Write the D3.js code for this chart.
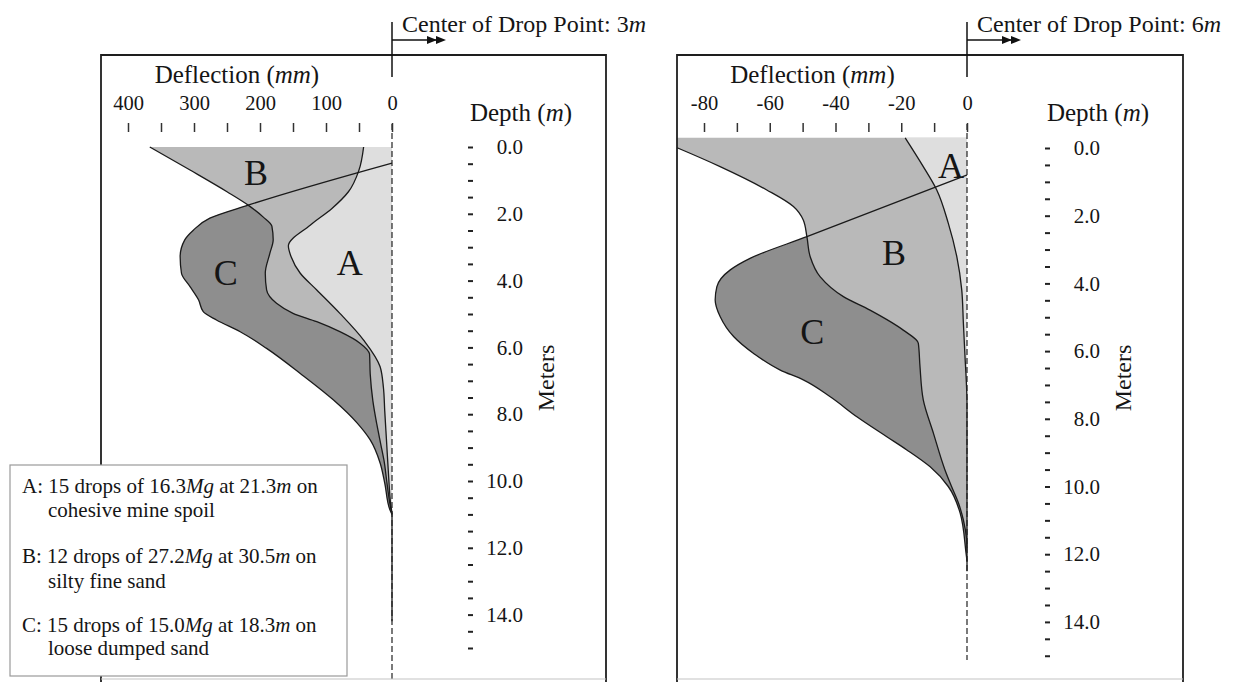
<!DOCTYPE html>
<html><head><meta charset="utf-8">
<script src="https://cdn.jsdelivr.net/npm/d3@7"></script>
<style>
html,body{margin:0;padding:0;background:#fff;}
svg{display:block;}
text{font-family:"Liberation Serif","Times New Roman",serif;fill:#151515;}
</style>
</head><body>
<svg id="c" width="1248" height="682"></svg>
<script>
// ---------------- DATA ----------------
// Deflection axis ticks (mm)
const leftTicks   = [0,50,100,150,200,250,300,350,400];
const leftLabels  = [0,100,200,300,400];
const rightTicks  = [-80,-70,-60,-50,-40,-30,-20,-10,0];
const rightLabels = [-80,-60,-40,-20,0];
// Depth axis ticks (m)
const depthTicks  = [0,0.5,1,1.5,2,2.5,3,3.5,4,4.5,5,5.5,6,6.5,7,7.5,8,8.5,9,9.5,10,10.5,11,11.5,12,12.5,13,13.5,14,14.5,15];
const depthLabels = [0,2,4,6,8,10,12,14];

// Left panel (drop point 3 m): [deflection mm, depth m]
const leftA = [[43,0],[50,0.69],[66,1.34],[91,1.84],[124,2.34],[157,2.96],[153,3.28],[139,3.78],[114,4.28],[79,4.98],[43,5.78],[18,6.58],[13,7.2],[11,7.9],[8,8.9],[5,9.9],[2,10.7],[0,11.0],[0,14.2]];
const leftB = [[367,0],[306,0.69],[250,1.34],[218,1.74],[195,2.10],[182,2.37],[180,2.78],[185,3.18],[192,3.78],[190,4.28],[175,4.68],[150,4.98],[114,5.23],[79,5.53],[48,5.88],[34,6.2],[33,6.8],[29,7.6],[23,8.3],[17,8.9],[12,9.4],[8,10.0],[3,10.7],[0,11.0]];
const leftC = [[0,0.48],[218,1.74],[276,2.13],[301,2.49],[314,2.78],[321,3.28],[319,3.78],[306,4.18],[293,4.58],[286,4.93],[266,5.18],[230,5.53],[190,6.03],[139,6.78],[89,7.57],[53,8.26],[33,8.77],[18,9.46],[11,10.06],[3,10.87],[0,11.0]];

// Right panel (drop point 6 m)
const rightA = [[-18.8,-0.3],[-13.3,0.55],[-9.2,1.24],[-5.7,2.22],[-3.1,3.21],[-1.6,4.19],[-1.1,5.18],[-0.6,6.17],[-0.1,7.15],[0,7.5],[0,12.5]];
const rightB = [[-95.4,-0.3],[-88,0],[-75.1,0.55],[-60.9,1.24],[-52.8,1.73],[-49.8,2.13],[-48.7,2.62],[-47.7,3.21],[-44.7,3.80],[-37.6,4.39],[-29.5,4.79],[-19.4,5.38],[-14.8,5.77],[-14.3,6.46],[-13.3,7.44],[-10.2,8.43],[-6.7,9.51],[-4.7,10.0],[-2.6,10.49],[-1.1,10.99],[-0.1,11.58],[0,11.8]];
const rightC = [[0,0.8],[-48.7,2.62],[-66,3.26],[-72,3.60],[-76.1,4.10],[-76.6,4.49],[-75.1,4.98],[-71.0,5.57],[-64.9,6.07],[-56.8,6.56],[-49.8,6.85],[-41.6,7.35],[-33.5,7.94],[-24.4,8.53],[-18.3,8.92],[-11.2,9.42],[-5.7,10.0],[-2.1,10.78],[-0.3,11.96],[0,12.2]];

// Region letters: [letter, deflection, depth]
const leftLetters  = [["A",64,3.47],["B",206,0.75],["C",252,3.77]];
const rightLetters = [["A",-4.9,0.53],["B",-22.2,3.10],["C",-47.1,5.41]];

const dropPoints = ["3","6"];

const legendItems = [
  {key:"A", drops:"15", mass:"16.3", height:"21.3", soil:"cohesive mine spoil"},
  {key:"B", drops:"12", mass:"27.2", height:"30.5", soil:"silty fine sand"},
  {key:"C", drops:"15", mass:"15.0", height:"18.3", soil:"loose dumped sand"}
];

// ---------------- LAYOUT ----------------
const svg = d3.select("#c");
const fills = {A:"#dedede", B:"#b9b9b9", C:"#8e8e8e"};

const panels = [
  {id:"L", frame:[101,55,606,682], xDomain:[0,400], xRange:[392,128], yRange:[147,147+15*33.4],
   ticks:leftTicks, labels:leftLabels, A:leftA, B:leftB, C:leftC, letters:leftLetters,
   depthX:468, dashEnd:680, drop:dropPoints[0], defl:235},
  {id:"R", frame:[677,55,1183,682], xDomain:[-80,0], xRange:[704,967], yRange:[148,148+15*33.85],
   ticks:rightTicks, labels:rightLabels, A:rightA, B:rightB, C:rightC, letters:rightLetters,
   depthX:1045, dashEnd:660, drop:dropPoints[1], defl:-47}
];

panels.forEach(p => {
  const x = d3.scaleLinear().domain(p.xDomain).range(p.xRange);
  const y = d3.scaleLinear().domain([0,15]).range(p.yRange);
  const [fx0,fy0,fx1,fy1] = p.frame;

  svg.append("clipPath").attr("id","clip"+p.id)
    .append("rect").attr("x",fx0).attr("y",fy0).attr("width",fx1-fx0).attr("height",fy1-fy0);

  const g = svg.append("g").attr("clip-path",`url(#clip${p.id})`);
  const area = d3.area().curve(d3.curveMonotoneY)
    .y(d => y(d[1])).x0(x(0)).x1(d => x(d[0]));
  const line = d3.line().curve(d3.curveMonotoneY)
    .x(d => x(d[0])).y(d => y(d[1]));

  ["C","B","A"].forEach(k => {
    g.append("path").attr("d", area(p[k])).attr("fill", fills[k]).attr("stroke","none");
  });
  // zero dashed line
  svg.append("line").attr("x1",x(0)).attr("x2",x(0)).attr("y1",124).attr("y2",p.dashEnd)
    .attr("stroke","#222").attr("stroke-width",1.2).attr("stroke-dasharray","6,3");
  ["C","B","A"].forEach(k => {
    g.append("path").attr("d", line(p[k])).attr("fill","none")
      .attr("stroke","#1a1a1a").attr("stroke-width",1.3);
  });

  // region letters
  p.letters.forEach(([t,v,d]) => {
    svg.append("text").attr("x",x(v)).attr("y",y(d)+12.5).attr("text-anchor","middle")
      .style("font-size","36px").text(t);
  });

  // deflection axis
  const ax = svg.append("g").attr("transform","translate(0,132)")
    .call(d3.axisTop(x).tickValues(p.ticks).tickSize(9).tickPadding(13)
      .tickFormat(d => p.labels.includes(d) ? String(d) : ""));
  ax.select(".domain").remove();
  ax.selectAll(".tick line").attr("stroke","#333").attr("stroke-width",1.5);
  ax.selectAll(".tick text").style("font-size","20.5px")
    .style("font-family","'Liberation Serif','Times New Roman',serif").attr("fill","#151515");

  svg.append("text").attr("x",x(p.defl)).attr("y",83).attr("text-anchor","middle")
    .style("font-size","25px")
    .call(t => { t.append("tspan").text("Deflection ("); t.append("tspan").style("font-style","italic").text("mm"); t.append("tspan").text(")"); });

  // depth axis
  const ay = svg.append("g").attr("transform",`translate(${p.depthX},0)`)
    .call(d3.axisRight(y).tickValues(depthTicks).tickSize(5)
      .tickFormat(d => depthLabels.includes(d) ? d3.format(".1f")(d) : ""));
  ay.select(".domain").remove();
  ay.selectAll(".tick line").attr("stroke","#222").attr("stroke-width",2);
  ay.selectAll(".tick text").attr("x",55).attr("text-anchor","end").style("font-size","21px")
    .style("font-family","'Liberation Serif','Times New Roman',serif").attr("fill","#151515");

  svg.append("text").attr("x",p.depthX+53).attr("y",121).attr("text-anchor","middle")
    .style("font-size","25px")
    .call(t => { t.append("tspan").text("Depth ("); t.append("tspan").style("font-style","italic").text("m"); t.append("tspan").text(")"); });

  svg.append("text").attr("transform",`translate(${p.depthX+86},378) rotate(-90)`)
    .attr("text-anchor","middle").style("font-size","24px").text("Meters");

  // frame (top, left, right)
  svg.append("path").attr("d",`M${fx0},${fy1}V${fy0}H${fx1}V${fy1}`)
    .attr("fill","none").attr("stroke","#1e1e1e").attr("stroke-width",1.8);
  svg.append("line").attr("x1",fx0).attr("x2",fx1).attr("y1",679).attr("y2",679)
    .attr("stroke","#c4c4c4").attr("stroke-width",1.2);

  // drop point marker
  const x0 = x(0);
  svg.append("line").attr("x1",x0).attr("x2",x0).attr("y1",22).attr("y2",77)
    .attr("stroke","#111").attr("stroke-width",1.5);
  svg.append("line").attr("x1",x0).attr("x2",x0+45).attr("y1",40).attr("y2",40)
    .attr("stroke","#111").attr("stroke-width",1.5);
  [45,54].forEach(dx => {
    svg.append("path").attr("d",`M${x0+dx},40L${x0+dx-10},36L${x0+dx-10},44Z`).attr("fill","#111");
  });
  svg.append("text").attr("x",x0+10).attr("y",32).style("font-size","24px")
    .call(t => { t.append("tspan").text("Center of Drop Point: " + p.drop); t.append("tspan").style("font-style","italic").text("m"); });
});

// legend
const lg = svg.append("g");
lg.append("rect").attr("x",10).attr("y",465).attr("width",337).attr("height",211)
  .attr("fill","#fff").attr("stroke","#9a9a9a").attr("stroke-width",1.2);
const lineYs = [[493,517],[563,588],[632,655]];
legendItems.forEach((it,i) => {
  const t1 = lg.append("text").attr("x",22).attr("y",lineYs[i][0]).style("font-size","21px");
  t1.append("tspan").text(`${it.key}: ${it.drops} drops of ${it.mass}`);
  t1.append("tspan").style("font-style","italic").text("Mg");
  t1.append("tspan").text(` at ${it.height}`);
  t1.append("tspan").style("font-style","italic").text("m");
  t1.append("tspan").text(" on");
  lg.append("text").attr("x",48).attr("y",lineYs[i][1]).style("font-size","21px").text(it.soil);
});
</script>
</body></html>
